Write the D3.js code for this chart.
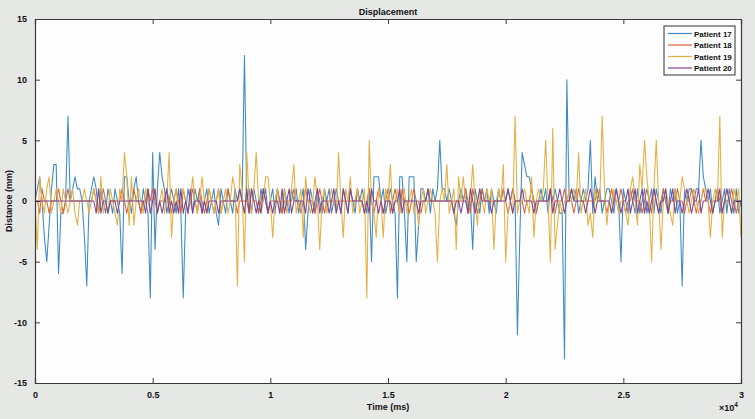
<!DOCTYPE html>
<html><head><meta charset="utf-8">
<script src="https://cdn.jsdelivr.net/npm/d3@7"></script>
<style>
html,body{margin:0;padding:0;background:#e6e8e6;}
svg{display:block;font-family:"Liberation Sans",Arial,sans-serif;}
</style></head>
<body>
<svg id="chart" width="755" height="419"></svg>
<script>
// ---- data (time step 100 ms, 0..30000 ms) ----
const seriesNames = ["Patient 17", "Patient 18", "Patient 19", "Patient 20"];
const timeStepMs = 100;
const xTicks = [0, 0.5, 1, 1.5, 2, 2.5, 3];
const yTicks = [-15, -10, -5, 0, 5, 10, 15];

const patient17 = [
0,1,2,0,-3,-5,-2,1,3,3,
-6,-1,-1,0,7,0,1,2,1,1,
0,-3,-7,0,1,2,1,-1,1,0,
-1,1,0,-1,1,0,-1,-6,2,2,
0,-1,1,2,0,-1,1,0,-1,-8,
4,-4,1,4,2,1,-1,0,1,0,
-1,1,-1,-8,-1,1,0,-1,1,0,
1,-1,0,1,-1,0,1,-1,-2,1,
0,-1,1,0,-1,1,0,1,0,12,
0,1,-1,1,0,-1,1,0,1,-1,
0,1,-1,1,0,-1,1,0,-1,1,
0,1,-1,0,1,-4,-1,1,0,-1,
1,0,-1,1,0,1,-1,0,1,0,
-1,1,0,-1,1,0,-1,1,0,1,
0,-1,1,-5,2,2,2,0,1,-1,
0,1,0,-1,-8,2,2,-1,-5,2,
2,2,-5,-2,1,1,0,1,-1,1,
0,1,5,1,1,0,1,0,-1,-2,
0,1,0,1,-1,0,-4,1,0,-1,
1,0,1,-1,1,0,-1,1,0,1,
0,1,0,1,0,-11,-3,4,3,2,
2,1,0,-1,0,1,0,1,-1,1,
0,1,0,-1,-1,-13,10,0,1,0,
1,-1,0,1,0,1,5,-1,2,0,
1,-1,0,1,1,0,-1,1,0,-5,
1,0,-1,1,0,-1,1,-1,0,1,
-1,0,1,-1,1,0,-1,1,0,-1,
1,0,1,-1,0,-7,1,0,1,1,
0,1,1,5,2,1,0,1,-1,0,
1,-1,0,1,-1,1,0,-1,1,-1,
0];

const patient18 = [
0,0,-1,1,0,0,-1,0,0,0,
1,0,-1,0,1,0,0,0,0,0,
0,0,0,0,0,1,0,-1,0,1,
0,-1,0,0,0,0,0,1,0,-1,
0,0,1,0,0,-1,0,0,1,0,
1,0,-1,0,0,0,1,0,-1,0,
1,0,-1,1,0,-1,0,1,0,-1,
1,0,-1,0,1,0,-1,0,1,-1,
0,0,1,0,0,0,-1,0,0,0,
0,-1,1,0,0,-1,0,1,0,-1,
0,0,0,1,0,-1,0,0,0,0,
1,0,0,-1,0,1,0,0,0,-1,
0,1,0,-1,0,0,0,0,0,0,
0,0,0,0,0,0,0,1,0,0,
-1,0,1,0,-1,0,1,0,-1,0,
1,-1,0,1,0,-1,1,0,0,-1,
0,1,0,0,-1,0,0,0,0,0,
0,0,0,0,0,0,0,0,0,0,
0,0,0,1,0,-1,1,0,-1,0,
1,0,0,0,0,0,0,0,0,1,
0,-1,0,1,0,0,0,0,-1,0,
0,1,0,-1,0,0,0,0,0,1,
0,-1,0,0,0,1,0,0,0,-1,
0,1,0,0,0,0,0,0,0,1,
0,0,0,-1,0,1,0,0,0,1,
0,-1,0,0,1,0,0,0,-1,0,
1,0,-1,1,0,-1,0,1,0,-1,
0,0,0,1,0,0,-1,0,0,1,
0,-1,0,0,1,0,0,-1,0,0,
1,0,-1,0,0,0,1,0,-1,0,
0];

const patient19 = [
0,-4,2,0,-1,1,2,-1,0,1,
0,-1,1,0,-1,0,1,-1,-2,0,
0,1,0,-1,0,1,0,-1,2,-1,
0,-1,1,0,-1,-2,1,0,4,2,
-2,2,-2,0,1,0,-1,1,0,-1,
0,1,-1,0,1,-1,0,4,-3,0,
1,-1,0,1,0,-1,0,2,0,-1,
0,2,0,-1,1,0,-1,0,1,-1,
0,1,-1,0,2,1,-7,3,1,-5,
4,0,-1,1,4,0,-1,0,2,2,
0,-3,0,1,-1,0,1,-1,0,1,
3,-1,0,1,-3,2,0,-1,0,2,
0,-4,0,1,-1,0,1,0,-1,4,
0,-3,1,0,2,-1,0,1,-1,0,
1,-8,5,0,-1,-3,1,0,-3,1,
0,3,-1,0,1,-1,0,1,-1,0,
1,-1,0,-2,0,1,-1,0,1,0,
-1,-5,0,1,0,3,-1,0,1,-4,
2,0,2,0,-1,0,3,0,-2,1,
0,-1,1,0,1,-4,0,1,0,3,
-5,-1,0,-1,7,-1,0,0,1,0,
-1,2,-3,0,1,0,1,5,0,-5,
6,-4,-2,0,-1,0,0,1,0,1,
0,4,-1,0,1,-2,-1,-3,1,0,
0,7,1,-2,0,-1,1,0,-1,0,
0,-1,-2,1,2,0,-2,3,1,5,
2,0,-5,1,5,0,-4,0,1,0,
-1,-2,1,0,0,2,1,0,-1,0,
1,0,-1,0,1,1,0,-3,0,1,
0,7,-3,0,1,0,-1,1,0,1,
-3];

const patient20 = [
0,0,0,0,0,0,0,0,0,0,
0,0,0,0,0,0,0,0,0,0,
0,0,0,0,0,0,-1,1,-1,0,
0,-1,0,0,0,-1,0,0,0,0,
0,0,0,0,0,0,0,-1,1,-1,
0,1,-1,0,-1,0,1,-1,0,-1,
0,-1,1,-1,0,-1,1,-1,0,0,
0,-1,0,-1,0,0,0,0,-1,0,
0,0,0,0,0,0,0,1,0,-1,
1,-1,1,0,-1,0,-1,1,0,-1,
0,-1,0,0,-1,1,-1,0,1,-1,
0,0,0,0,0,-1,1,0,-1,0,
1,-1,0,0,0,-1,0,1,-1,0,
-1,1,0,-1,1,0,0,0,0,0,
-1,0,-1,1,0,0,-1,0,-1,0,
0,0,-1,0,0,1,-1,0,0,0,
0,0,0,-1,0,0,0,1,0,0,
0,0,0,0,0,0,0,0,-1,0,
0,-1,0,0,-1,1,0,-1,0,1,
0,0,0,0,-1,0,0,0,0,0,
0,1,0,-1,0,0,0,1,0,0,
0,0,-1,0,0,0,0,0,0,1,
-1,0,0,1,0,-1,0,0,1,0,
0,0,0,0,-1,0,1,0,-1,0,
0,0,0,0,0,-1,0,1,0,-1,
0,0,1,-1,0,1,-1,0,1,-1,
0,-1,0,1,0,-1,0,0,1,-1,
0,1,-1,0,0,-1,0,1,0,-1,
0,0,1,-1,0,0,1,0,-1,0,
0,1,-1,0,1,0,-1,0,0,0,
0];

const seriesValues = [patient17, patient18, patient19, patient20];
const colors = ["#3d8ac6", "#d9643c", "#e5b043", "#7d4596"];

// ---- layout ----
const svg = d3.select("#chart");
const W = 755, H = 419;
const L = 35, R = 741, T = 19, B = 383;

svg.append("rect").attr("width", W).attr("height", H).attr("fill", "#e6e8e6");
svg.append("rect").attr("x", L).attr("y", T).attr("width", R - L).attr("height", B - T).attr("fill", "#fcfdfc");

const x = d3.scaleLinear().domain([0, 3]).range([L, R]);
const y = d3.scaleLinear().domain([-15, 15]).range([B, T]);

svg.append("clipPath").attr("id", "clip").append("rect")
  .attr("x", L).attr("y", T).attr("width", R - L).attr("height", B - T);

const line = d3.line()
  .x((d, i) => x(i * timeStepMs / 10000))
  .y(d => y(d));

const g = svg.append("g").attr("clip-path", "url(#clip)");
seriesValues.forEach((vals, k) => {
  g.append("path").datum(vals)
    .attr("d", line)
    .attr("fill", "none")
    .attr("stroke", colors[k])
    .attr("stroke-width", 1.05)
    .attr("stroke-linejoin", "round");
});

// axes (MATLAB-like: ticks inward, box on)
const axisColor = "#3a3a3a";
const fmt = d => String(d);
const axBottom = svg.append("g").attr("transform", `translate(0,${B})`)
  .call(d3.axisBottom(x).tickValues(xTicks).tickSize(-5).tickPadding(9).tickFormat(fmt));
const axTop = svg.append("g").attr("transform", `translate(0,${T})`)
  .call(d3.axisTop(x).tickValues(xTicks).tickSize(-5).tickFormat(""));
const axLeft = svg.append("g").attr("transform", `translate(${L},0)`)
  .call(d3.axisLeft(y).tickValues(yTicks).tickSize(-5).tickPadding(8).tickFormat(fmt));
const axRight = svg.append("g").attr("transform", `translate(${R},0)`)
  .call(d3.axisRight(y).tickValues(yTicks).tickSize(-5).tickFormat(""));

[axBottom, axTop, axLeft, axRight].forEach(a => {
  a.select(".domain").attr("stroke", axisColor).attr("stroke-width", 1.2);
  a.selectAll(".tick line").attr("stroke", axisColor).attr("stroke-width", 1);
  a.selectAll("text").attr("fill", "#111").attr("font-size", 9).attr("font-weight", "bold")
    .attr("font-family", "'Liberation Sans', Arial, sans-serif");
});

// titles
svg.append("text").attr("x", (L + R) / 2).attr("y", 15).attr("text-anchor", "middle")
  .attr("font-size", 9).attr("font-weight", "bold").attr("fill", "#111").text("Displacement");
svg.append("text").attr("x", (L + R) / 2).attr("y", 410).attr("text-anchor", "middle")
  .attr("font-size", 9).attr("font-weight", "bold").attr("fill", "#111").text("Time (ms)");
svg.append("text").attr("transform", `translate(12,${(T + B) / 2}) rotate(-90)`)
  .attr("text-anchor", "middle").attr("font-size", 9).attr("font-weight", "bold")
  .attr("fill", "#111").text("Distance (mm)");

// exponent label
const ex = svg.append("text").attr("x", 719).attr("y", 411).attr("font-size", 9)
  .attr("fill", "#111").attr("font-weight", "bold");
ex.append("tspan").text("\u00d710");
ex.append("tspan").attr("dy", -4).attr("font-size", 6.5).text("4");

// legend
const lg = svg.append("g");
lg.append("rect").attr("x", 664).attr("y", 26).attr("width", 71).attr("height", 49)
  .attr("fill", "#fcfdfc").attr("stroke", "#333").attr("stroke-width", 1);
seriesNames.forEach((name, k) => {
  const yy = 33.5 + k * 11.5;
  lg.append("line").attr("x1", 668).attr("x2", 692).attr("y1", yy).attr("y2", yy)
    .attr("stroke", colors[k]).attr("stroke-width", 1.2);
  lg.append("text").attr("x", 694).attr("y", yy + 3).attr("font-size", 8)
    .attr("font-weight", "bold").attr("fill", "#111").text(name);
});
</script>
</body></html>
